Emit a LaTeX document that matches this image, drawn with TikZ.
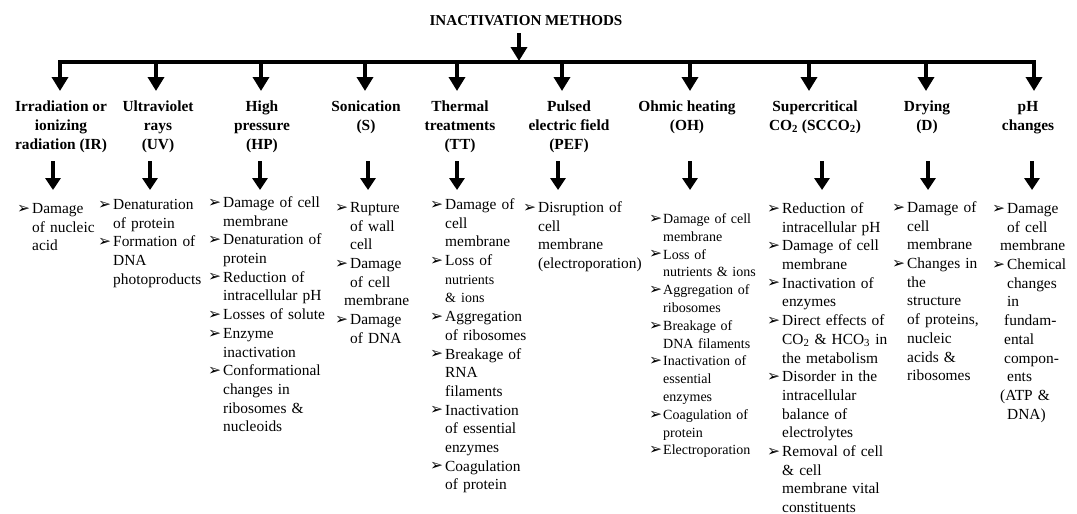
\documentclass[tikz,border=0pt]{standalone}
\usepackage{fontspec}
\setmainfont{Liberation Serif}
\newfontfamily\dvfont{DejaVu Sans}
\usetikzlibrary{arrows.meta}
\newlength\bw
\setlength\bw{15pt}
\newcommand\bul{{\dvfont\fontsize{15.5}{15.5}\selectfont\raisebox{0.3pt}{➢}}}
\newcommand\bi{\par\noindent\hangindent=\bw\hangafter=1\relax\makebox[\bw][l]{\bul}\rule{0pt}{0.75em}\ignorespaces}
\newcommand\nl{\unskip\hfil\break}
\newcommand\sm[1]{{\fontsize{14}{18.7}\selectfont #1}}
\tikzset{
  bigarrow/.style={line width=4pt, -{Triangle[length=14pt,width=16pt]}},
  smallarrow/.style={line width=4pt, -{Triangle[length=12pt,width=15pt]}},
  head/.style={anchor=north, inner sep=0pt, align=center, font=\bfseries\fontsize{15.4}{19}\selectfont},
  body/.style={anchor=north west, inner sep=0pt, text width=160pt, font=\fontsize{15.4}{18.7}\selectfont},
  bodysmall/.style={body, font=\fontsize{14}{17.8}\selectfont},
}
\begin{document}
\begin{tikzpicture}[x=1pt,y=-1pt]
\useasboundingbox (0,0) rectangle (1077,514);
% title
\node[anchor=base, inner sep=0pt, font=\bfseries\fontsize{15.1}{18}\selectfont] (title) at (526,25) {INACTIVATION METHODS};
\coordinate (ta) at (519,61);
\draw[bigarrow] ([yshift=-8pt]title.south -| ta) -- (ta);
% bar
\coordinate (bl) at (60,62);
\coordinate (br) at (1034,62);
\draw[line width=4pt, line cap=rect] (bl) -- (br);
% headers
\node[head] (h1) at (61,100) {\rule{0pt}{0.75em}Irradiation or\\ionizing\\radiation (IR)};
\node[head] (h2) at (158,100) {\rule{0pt}{0.75em}Ultraviolet\\rays\\(UV)};
\node[head] (h3) at (262,100) {\rule{0pt}{0.75em}High\\pressure\\(HP)};
\node[head] (h4) at (366,100) {\rule{0pt}{0.75em}Sonication\\(S)};
\node[head] (h5) at (460,100) {\rule{0pt}{0.75em}Thermal\\treatments\\(TT)};
\node[head] (h6) at (569,100) {\rule{0pt}{0.75em}Pulsed\\electric field\\(PEF)};
\node[head] (h7) at (687,100) {\rule{0pt}{0.75em}Ohmic heating\\(OH)};
\node[head] (h8) at (815,100) {\rule{0pt}{0.75em}Supercritical\\CO\textsubscript{2} (SCCO\textsubscript{2})};
\node[head] (h9) at (927,100) {\rule{0pt}{0.75em}Drying\\(D)};
\node[head] (h10) at (1028,100) {\rule{0pt}{0.75em}pH\\changes};
% top branch arrows
\foreach \k/\x in {1/60,2/156,3/261,4/365,5/457,6/562,7/690,8/809,9/926,10/1034}{
  \coordinate (t\k) at (\x,62);
  \draw[bigarrow] (t\k) -- ([yshift=9pt]t\k |- h\k.north);
}
% bodies
\node[body] (c1) at (17,194.5) {\raggedright\bi Damage\nl of nucleic\nl acid\par};
\node[body] (c2) at (98,190.5) {\raggedright\bi Denaturation\nl of protein
\bi Formation of\nl DNA\nl photoproducts\par};
\node[body] (c3) at (208,188.5) {\raggedright\bi Damage of cell\nl membrane
\bi Denaturation of\nl protein
\bi Reduction of\nl intracellular pH
\bi Losses of solute
\bi Enzyme\nl inactivation
\bi Conformational\nl changes in\nl ribosomes \&\nl nucleoids\par};
\node[body] (c4) at (335,193.5) {\raggedright\bi Rupture\nl of wall\nl cell
\bi Damage\nl of cell\nl\hspace*{-6pt}membrane
\bi Damage\nl of DNA\par};
\node[body] (c5) at (430,190.5) {\raggedright\bi Damage of\nl cell\nl membrane
\bi Loss of\nl\sm{nutrients}\nl\sm{\& ions}
\bi Aggregation\nl of ribosomes
\bi Breakage of\nl RNA\nl filaments
\bi Inactivation\nl of essential\nl enzymes
\bi Coagulation\nl of protein\par};
\node[body] (c6) at (523,193.5) {\raggedright\bi Disruption of\nl cell\nl membrane\nl (electroporation)\par};
\node[bodysmall] (c7) at (649,205.5) {\raggedright\setlength\bw{14pt}\bi Damage of cell\nl membrane
\bi Loss of\nl nutrients \& ions
\bi Aggregation of\nl ribosomes
\bi Breakage of\nl DNA filaments
\bi Inactivation of\nl essential\nl enzymes
\bi Coagulation of\nl protein
\bi Electroporation\par};
\node[body] (c8) at (767,194.5) {\raggedright\bi Reduction of\nl intracellular pH
\bi Damage of cell\nl membrane
\bi Inactivation of\nl enzymes
\bi Direct effects of\nl CO\textsubscript{2} \& HCO\textsubscript{3} in\nl the metabolism
\bi Disorder in the\nl intracellular\nl balance of\nl electrolytes
\bi Removal of cell\nl \& cell\nl membrane vital\nl constituents\par};
\node[body] (c9) at (892,193.5) {\raggedright\bi Damage of\nl cell\nl membrane
\bi Changes in\nl the\nl structure\nl of proteins,\nl nucleic\nl acids \&\nl ribosomes\par};
\node[body] (c10) at (992,194.5) {\raggedright\bi Damage\nl of cell\nl\hspace*{-7pt}membrane
\bi Chemical\nl changes\nl in\nl\hspace*{-3pt}fundam-\nl\hspace*{-3pt}ental\nl\hspace*{-3pt}compon-\nl ents\nl\hspace*{-7pt}(ATP \&\nl DNA)\par};
% lower arrows
\foreach \k/\x in {1/53,2/150,3/260,4/368,5/457,6/558,7/690,8/822,9/928,10/1032}{
  \coordinate (u\k) at (\x,161);
  \coordinate (d\k) at (\x,190);
  \draw[smallarrow] (u\k) -- (d\k);
}
\end{tikzpicture}
\end{document}
